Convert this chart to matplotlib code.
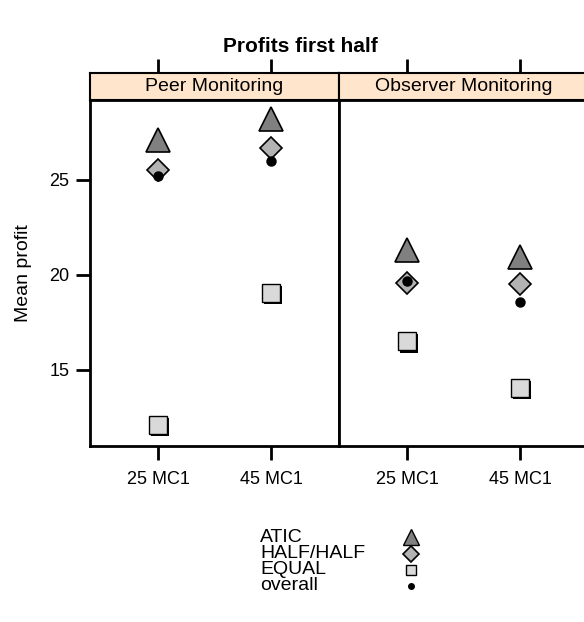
import matplotlib
matplotlib.use("Agg")
import matplotlib.pyplot as plt
import matplotlib.patheffects as pe
from matplotlib.lines import Line2D

plt.rcParams['font.family'] = ['Liberation Sans', 'DejaVu Sans']

panels = ["Peer Monitoring", "Observer Monitoring"]
conditions = ["25 MC1", "45 MC1"]
atic = [[27.1, 28.2], [21.3, 20.95]]
halfhalf = [[25.5, 26.7], [19.6, 19.5]]
equal = [[12.1, 19.05], [16.5, 14.05]]
overall = [[25.2, 26.0], [19.7, 18.6]]
yticks = [15, 20, 25]
legend_labels = ["ATIC", "HALF/HALF", "EQUAL", "overall"]

W, H = 584, 622
fig = plt.figure(figsize=(W / 100, H / 100), dpi=100)

def fx(px):
    return px / W

def fy(py):
    return 1 - py / H

panel_left = [90, 339]
pw = 249
top, strip_bot, bot = 73, 100, 446
xpos = [1, 2]
shadow = [pe.SimplePatchShadow(offset=(1.5, -1.5), shadow_rgbFace='black', alpha=1.0), pe.Normal()]

for i, name in enumerate(panels):
    ax = fig.add_axes([fx(panel_left[i]), fy(bot), fx(pw), (bot - strip_bot) / H])
    sx = fig.add_axes([fx(panel_left[i]), fy(strip_bot), fx(pw), (strip_bot - top) / H], sharex=ax)
    ax.plot(xpos, atic[i], linestyle='none', marker='^', markersize=17,
            markerfacecolor='#808080', markeredgecolor='black', markeredgewidth=1.2)
    ax.plot(xpos, halfhalf[i], linestyle='none', marker='D', markersize=11.5,
            markerfacecolor='#b3b3b3', markeredgecolor='black', markeredgewidth=1.2)
    ax.plot(xpos, equal[i], linestyle='none', marker='s', markersize=13,
            markerfacecolor='#d9d9d9', markeredgecolor='black', markeredgewidth=1.0,
            path_effects=shadow)
    ax.plot(xpos, overall[i], linestyle='none', marker='o', markersize=6.5,
            markerfacecolor='black', markeredgecolor='black')
    ax.set_xlim(1 - 68 / 113, 1 - 68 / 113 + pw / 113)
    ax.set_ylim(11.0, 29.2)
    ax.set_xticks(xpos)
    ax.set_xticklabels(conditions, fontsize=13)
    ax.tick_params(axis='x', direction='out', length=10, width=2, pad=8)
    if i == 0:
        ax.set_yticks(yticks)
        ax.set_yticklabels([str(v) for v in yticks], fontsize=13)
        ax.tick_params(axis='y', direction='out', length=10, width=2, pad=5)
        ax.set_ylabel("Mean profit", fontsize=14, labelpad=12)
    else:
        ax.set_yticks([])
    for s in ax.spines.values():
        s.set_linewidth(2)
    sx.set_facecolor('#ffe5cc')
    sx.set_yticks([])
    sx.tick_params(axis='x', direction='out', length=10, width=2, bottom=False,
                   top=True, labelbottom=False, labeltop=False)
    for s in sx.spines.values():
        s.set_linewidth(1.5)
    sx.text(0.5, 0.5, name, transform=sx.transAxes, ha='center', va='center', fontsize=14)

fig.text(fx(300), fy(47), "Profits first half", ha='center', va='center',
         fontsize=15, fontweight='heavy')

# legend (key drawn manually: labels left-aligned, symbols to the right)
key_styles = [
    dict(marker='^', markersize=12, markerfacecolor='#808080', markeredgecolor='black'),
    dict(marker='D', markersize=8, markerfacecolor='#b3b3b3', markeredgecolor='black', markeredgewidth=1.2),
    dict(marker='s', markersize=7.5, markerfacecolor='#d9d9d9', markeredgecolor='black'),
    dict(marker='o', markersize=4, markerfacecolor='black', markeredgecolor='black'),
]
row_y = [537, 554, 570, 586]
for lab, st, ry in zip(legend_labels, key_styles, row_y):
    fig.text(fx(260), fy(ry), lab, ha='left', va='center', fontsize=14)
    fig.add_artist(Line2D([fx(411)], [fy(ry)], transform=fig.transFigure, linestyle='none', **st))

fig.savefig("out.png", dpi=100)
